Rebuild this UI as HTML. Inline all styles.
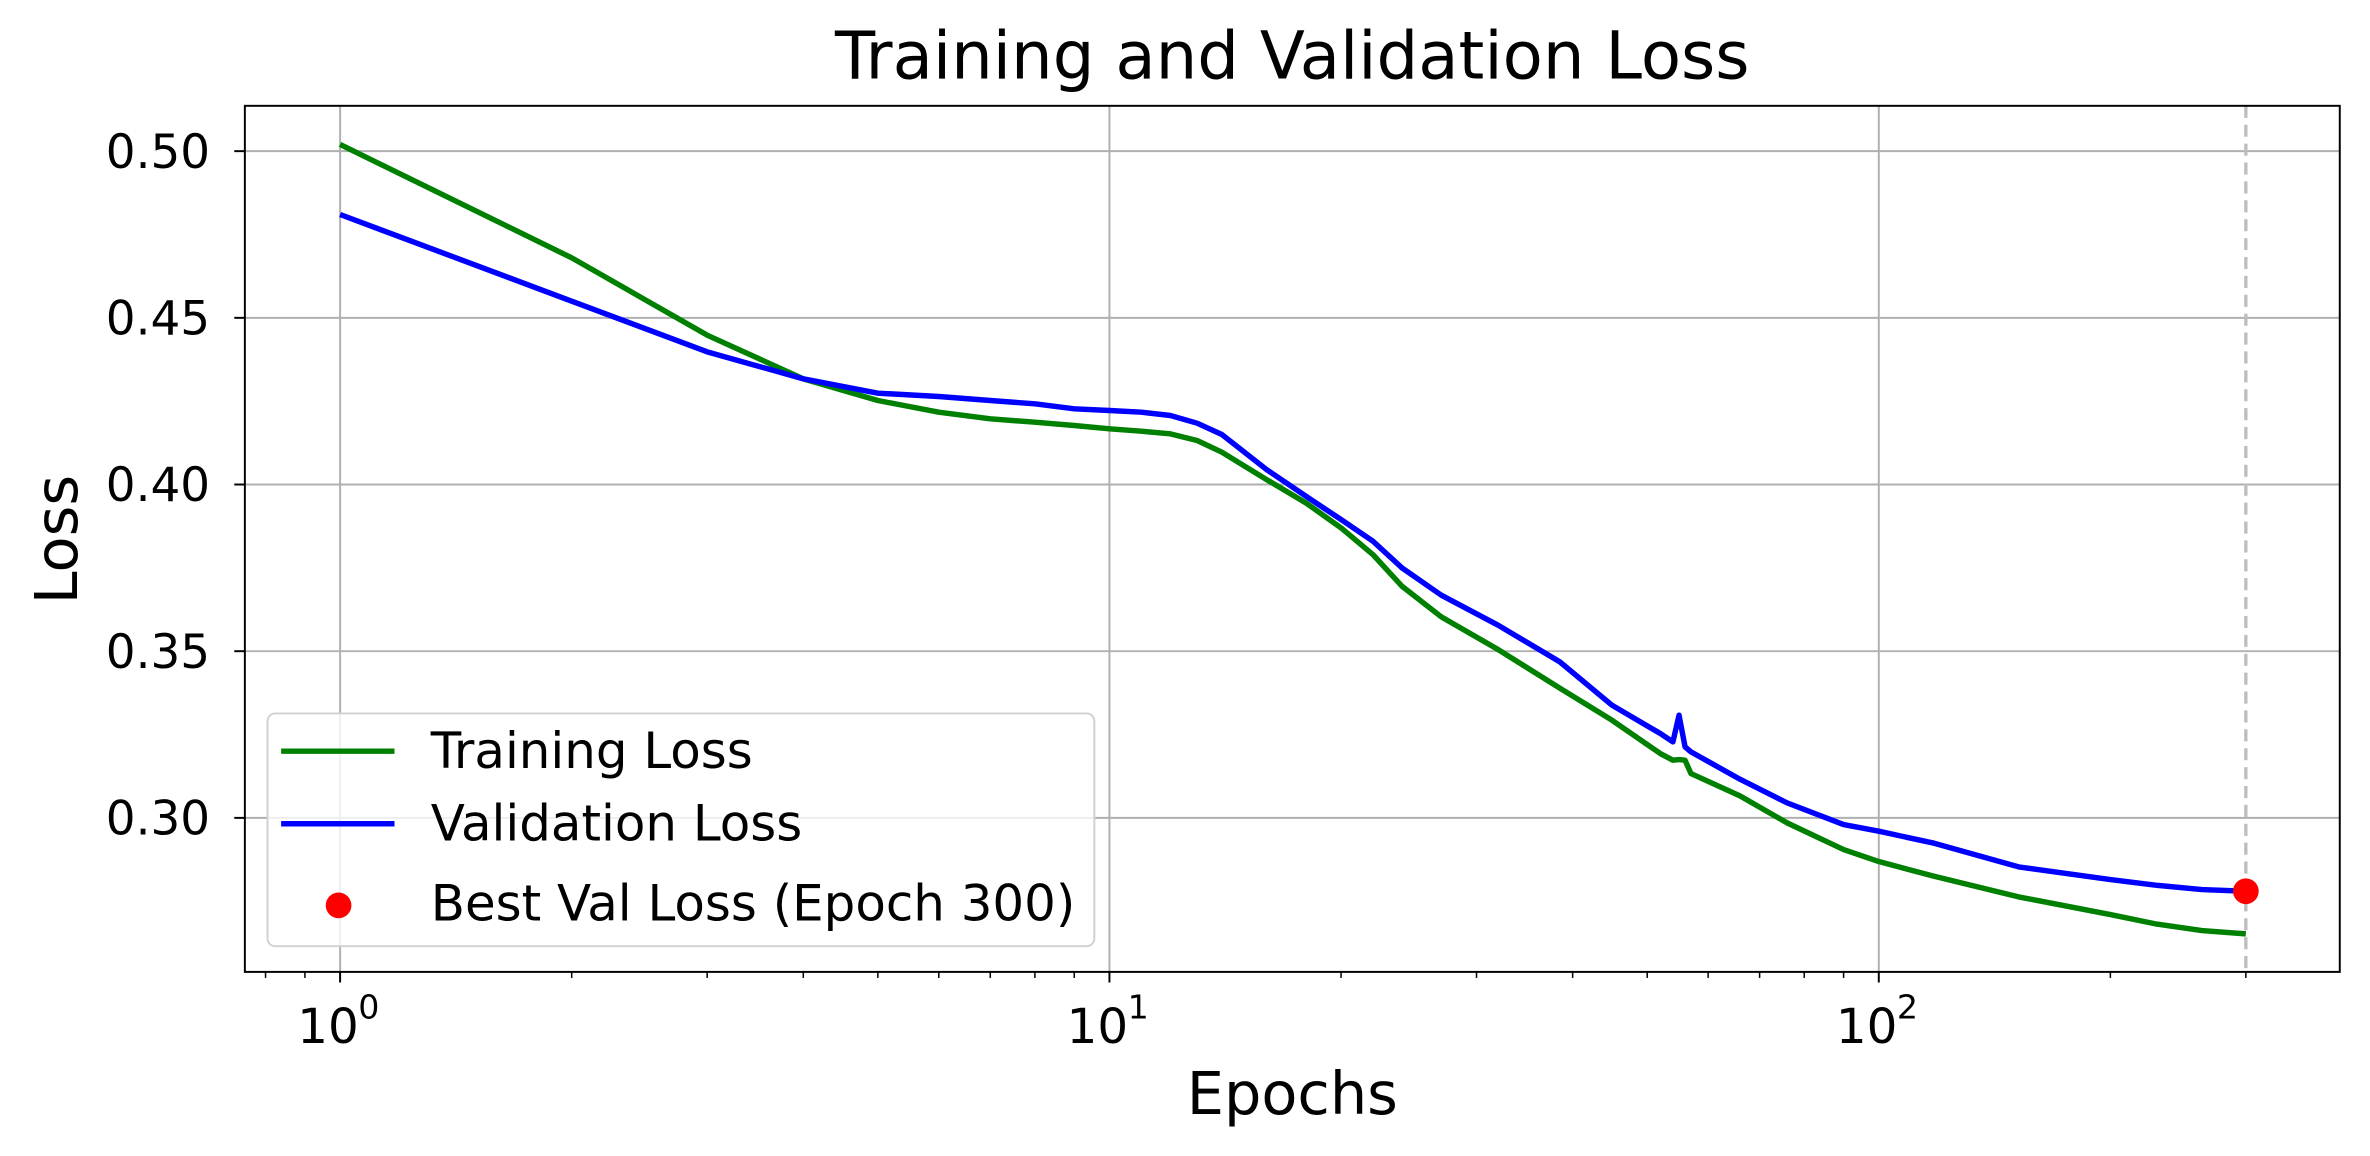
<!DOCTYPE html>
<html><head><meta charset="utf-8"><style>
html,body{margin:0;padding:0;background:#fff;}
svg{display:block;font-family:"DejaVu Sans","Liberation Sans",sans-serif;}
</style></head><body>
<svg id="chart" width="2370" height="1156" viewBox="0 0 1568 764.8" xmlns="http://www.w3.org/2000/svg">
<rect width="1568" height="764.8" fill="#fff"/>
<g id="grid"></g>
<g id="series"></g>
<rect x="162" y="70" width="1386" height="573" fill="none" stroke="#000" stroke-width="1.3"/>
<g id="ticks"></g>
<text x="855" y="52" font-size="43.5" text-anchor="middle">Training and Validation Loss</text>
<text x="855" y="737" font-size="39" text-anchor="middle">Epochs</text>
<text transform="translate(51,357) rotate(-90)" font-size="39" text-anchor="middle">Loss</text>
<g>
<rect x="177" y="472" width="547" height="154" rx="5" fill="#fff" fill-opacity="0.8" stroke="#d0d0d0" stroke-width="1.3"/>
<line x1="186" y1="497" x2="261" y2="497" stroke="green" stroke-width="3.6"/>
<text x="285" y="508" font-size="33">Training Loss</text>
<line x1="186" y1="545" x2="261" y2="545" stroke="blue" stroke-width="3.6"/>
<text x="285" y="556" font-size="33">Validation Loss</text>
<circle cx="224" cy="599" r="8.5" fill="red"/>
<text x="285" y="609" font-size="33">Best Val Loss (Epoch 300)</text>
</g>
</svg>
<script>
const epochs = [1,2,3,4,5,6,7,8,9,10,11,12,13,14,16,18,20,22,24,27,32,38.5,45,52,54,55,56,57,66,76,90,100,118,152,200,229,263,300];
const trainLoss = [0.502,0.468,0.4448,0.4317,0.4252,0.4217,0.4197,0.4187,0.4177,0.4167,0.416,0.4152,0.4132,0.4097,0.4015,0.3945,0.387,0.379,0.3695,0.3603,0.3505,0.3389,0.3293,0.3193,0.3173,0.3175,0.3173,0.3133,0.3066,0.2985,0.2905,0.2869,0.2825,0.2763,0.271,0.2682,0.2662,0.2652];
const valLoss = [0.481,0.455,0.4398,0.4317,0.4274,0.4264,0.4252,0.4242,0.4227,0.4222,0.4217,0.4207,0.4184,0.415,0.4045,0.3965,0.3895,0.383,0.375,0.3668,0.3578,0.3468,0.3338,0.3253,0.3228,0.3308,0.3213,0.3198,0.3116,0.3045,0.298,0.296,0.2924,0.2853,0.2815,0.2798,0.2785,0.278];
const bestEpoch = [300];
const bestLoss = [0.278];
const yTicks = [0.30,0.35,0.40,0.45,0.50];
const yTickLabels = ["0.30","0.35","0.40","0.45","0.50"];
const xMajor = [1,10,100];
const xMajorExp = ["0","1","2"];

const NS="http://www.w3.org/2000/svg";
const X0=162,X1=1548,Y0=70,Y1=643;
const xLogMin=-0.1238,xLogMax=2.5992,yMin=0.2538,yMax=0.5136;
function xs(e){return X0+(Math.log10(e)-xLogMin)/(xLogMax-xLogMin)*(X1-X0);}
function ys(v){return Y1-(v-yMin)/(yMax-yMin)*(Y1-Y0);}
function mk(tag,attrs,parent){const el=document.createElementNS(NS,tag);for(const k in attrs)el.setAttribute(k,attrs[k]);parent.appendChild(el);return el;}
const grid=document.getElementById('grid'),ticks=document.getElementById('ticks'),series=document.getElementById('series');

yTicks.forEach((v,i)=>{
  const y=ys(v);
  const g=mk('line',{x1:X0,x2:X1,y1:y,y2:y,stroke:'#b0b0b0','stroke-width':1.3},grid);
  
  
  const t=mk('line',{x1:X0-7,x2:X0,y1:y,y2:y,stroke:'#000','stroke-width':1.3},ticks);
  
  
  const l=mk('text',{x:X0-23,y:y+11,'font-size':31,'text-anchor':'end'},ticks);
  l.textContent=yTickLabels[i];
  
  
});
xMajor.forEach((e,i)=>{
  const x=xs(e);
  const g=mk('line',{x1:x,x2:x,y1:Y0,y2:Y1,stroke:'#b0b0b0','stroke-width':1.3},grid);
  
  
  const t=mk('line',{x1:x,x2:x,y1:Y1,y2:Y1+7,stroke:'#000','stroke-width':1.3},ticks);
  
  
  const l=mk('text',{x:x-8,y:Y1+47,'font-size':32,'text-anchor':'middle'},ticks);
  l.textContent='10';
  
  
  const s=mk('text',{x:x+12,y:Y1+31,'font-size':22},ticks);
  s.textContent=xMajorExp[i];
  
  
});
[0.1,1,10,100].forEach(d=>{for(let m=2;m<=9;m++){const e=d*m;const lg=Math.log10(e);if(lg<xLogMin||lg>xLogMax)continue;
  const x=xs(e);
  const t=mk('line',{x1:x,x2:x,y1:Y1,y2:Y1+4,stroke:'#000','stroke-width':1},ticks);
  
  
}});
const dl=mk('line',{x1:xs(bestEpoch[0]),x2:xs(bestEpoch[0]),y1:Y0,y2:Y1,stroke:'#bdbdbd','stroke-width':2.2,'stroke-dasharray':'8,4.5'},series);


function path(arr){return arr.map((v,i)=>(i?'L':'M')+xs(epochs[i]).toFixed(2)+','+ys(v).toFixed(2)).join(' ');}
const tp=mk('path',{d:path(trainLoss),fill:'none',stroke:'green','stroke-width':3.6,'stroke-linejoin':'round'},series);


const vp=mk('path',{d:path(valLoss),fill:'none',stroke:'blue','stroke-width':3.6,'stroke-linejoin':'round'},series);


const bp=mk('circle',{cx:xs(bestEpoch[0]),cy:ys(bestLoss[0]),r:8.5,fill:'red'},series);


</script>
</body></html>
